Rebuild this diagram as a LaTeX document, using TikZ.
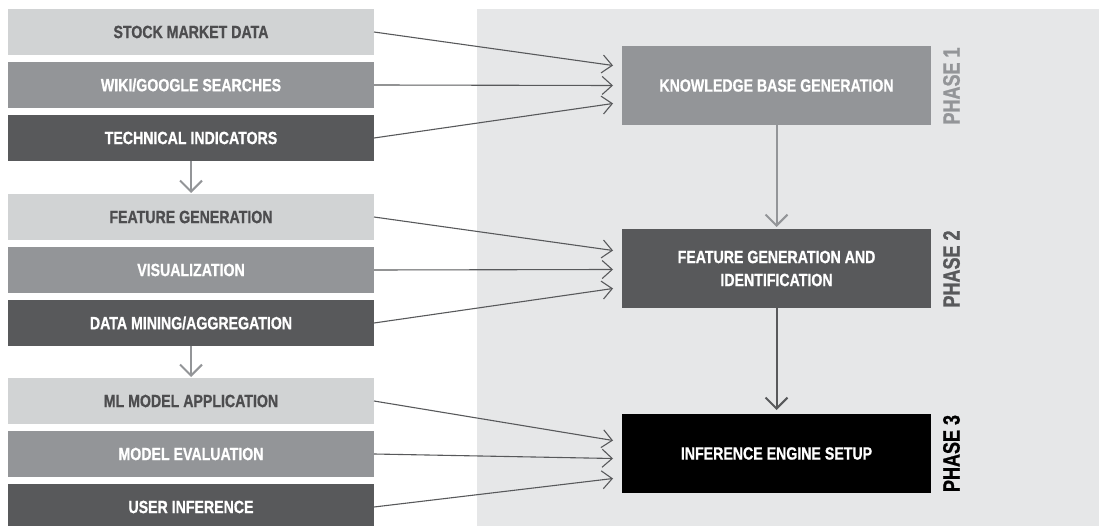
\documentclass[tikz,border=0pt]{standalone}
\usepackage{fontspec}
\setmainfont{Liberation Sans}
\newfontfamily\cond{Liberation Sans Bold}[FakeStretch=0.8, FakeBold=0.9]
\newfontfamily\condp{Liberation Sans Bold}[FakeStretch=0.76, FakeBold=0.9]
\usetikzlibrary{arrows.meta}
\definecolor{lightg}{HTML}{D1D3D4}
\definecolor{midg}{HTML}{939598}
\definecolor{darkg}{HTML}{58595B}
\definecolor{panelg}{HTML}{E6E7E8}
\definecolor{txtg}{HTML}{4D4D4F}
\tikzset{
  lbox/.style={minimum width=366pt, minimum height=46pt, inner sep=0pt, outer sep=0pt,
    font=\cond\fontsize{17.7}{23}\selectfont},
  lb1/.style={lbox, fill=lightg, text=txtg},
  lb2/.style={lbox, fill=midg, text=white},
  lb3/.style={lbox, fill=darkg, text=white},
  pbox/.style={minimum width=309pt, minimum height=79pt, inner sep=0pt, outer sep=0pt,
    align=center, text=white, font=\cond\fontsize{17.7}{23}\selectfont},
  plabel/.style={rotate=90, inner sep=0pt, font=\condp\fontsize{23.7}{28}\selectfont},
  conn/.style={draw=darkg, line width=1.1pt, -{Straight Barb[length=10pt,width=18pt,line width=1.1pt]}},
  vdown/.style={line width=2pt, -{Straight Barb[length=11pt,width=22pt,line width=2pt]}}
}
\begin{document}
\begin{tikzpicture}[x=1pt,y=-1pt]
\useasboundingbox (0,0) rectangle (1099,526);
\clip (0,0) rectangle (1099,526);
\fill[panelg] (477,9) rectangle (1099,526);
% left boxes
\node[lb1] (b1) at (191,32) {STOCK MARKET DATA};
\node[lb2] (b2) at (191,85) {WIKI/GOOGLE SEARCHES};
\node[lb3] (b3) at (191,138) {TECHNICAL INDICATORS};
\node[lb1] (b4) at (191,217) {FEATURE GENERATION};
\node[lb2] (b5) at (191,270) {VISUALIZATION};
\node[lb3] (b6) at (191,323) {DATA MINING/AGGREGATION};
\node[lb1] (b7) at (191,401) {ML MODEL APPLICATION};
\node[lb2] (b8) at (191,454) {MODEL EVALUATION};
\node[lb3] (b9) at (191,507) {USER INFERENCE};
% phase boxes
\node[pbox, fill=midg] (kb) at (776.5,85.5) {KNOWLEDGE BASE GENERATION};
\node[pbox, fill=darkg] (fg) at (776.5,268.5) {FEATURE GENERATION AND\\IDENTIFICATION};
\node[pbox, fill=black] (ie) at (776.5,453.5) {INFERENCE ENGINE SETUP};
% phase labels
\node[plabel, text=midg] (p1) at (951.5,86) {PHASE 1};
\node[plabel, text=darkg] (p2) at (951.5,269) {PHASE 2};
\node[plabel, text=black] (p3) at (951.5,453.5) {PHASE 3};
% connectors to phase 1
\draw[conn] (b1.east) -- ([xshift=-9pt,yshift=20pt]kb.west);
\draw[conn] (b2.east) -- ([xshift=-9pt]kb.west);
\draw[conn] (b3.east) -- ([xshift=-9pt,yshift=-18pt]kb.west);
% connectors to phase 2
\draw[conn] (b4.east) -- ([xshift=-9pt,yshift=18pt]fg.west);
\draw[conn] (b5.east) -- ([xshift=-9pt,yshift=-1pt]fg.west);
\draw[conn] (b6.east) -- ([xshift=-9pt,yshift=-20pt]fg.west);
% connectors to phase 3
\draw[conn] (b7.east) -- ([xshift=-9pt,yshift=13pt]ie.west);
\draw[conn] (b8.east) -- ([xshift=-9pt,yshift=-5pt]ie.west);
\draw[conn] (b9.east) -- ([xshift=-9pt,yshift=-25pt]ie.west);
% vertical arrows
\draw[vdown, draw=midg] (b3.south) -- ([yshift=1pt]b4.north);
\draw[vdown, draw=midg] (b6.south) -- ([yshift=1pt]b7.north);
\draw[vdown, draw=midg] (kb.south) -- ([yshift=2pt]fg.north);
\draw[vdown, draw=darkg] (fg.south) -- ([yshift=4pt]ie.north);
\end{tikzpicture}
\end{document}
